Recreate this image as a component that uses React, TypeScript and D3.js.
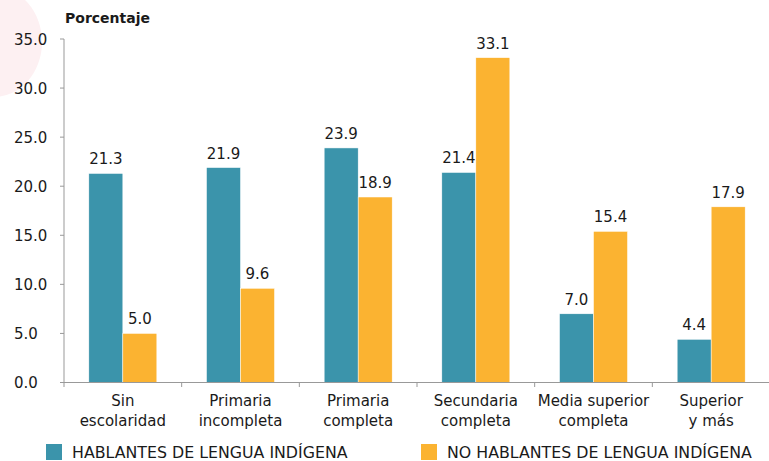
import React from 'react';
import * as d3 from 'd3';

const categories = [
  ['Sin', 'escolaridad'],
  ['Primaria', 'incompleta'],
  ['Primaria', 'completa'],
  ['Secundaria', 'completa'],
  ['Media superior', 'completa'],
  ['Superior', 'y más'],
];
const hablantes = [21.3, 21.9, 23.9, 21.4, 7.0, 4.4];
const noHablantes = [5.0, 9.6, 18.9, 33.1, 15.4, 17.9];
const seriesNames = ['HABLANTES DE LENGUA INDÍGENA', 'NO HABLANTES DE LENGUA INDÍGENA'];
const yTicks = [0, 5, 10, 15, 20, 25, 30, 35];

const width = 769;
const height = 461;
const colors = ['#3b94ab', '#fbb331'];
const font = '"DejaVu Sans", "Noto Sans", sans-serif';

const App: React.FC = () => {
  const x = d3
    .scaleBand<number>()
    .domain(d3.range(categories.length))
    .range([64, 770]);
  const y = d3.scaleLinear().domain([0, 35]).range([382.5, 39]);
  const barW = 34;
  const series = [hablantes, noHablantes];

  return (
    <svg
      width={width}
      height={height}
      style={{ position: 'absolute', left: 0, top: 0, fontFamily: font }}
    >
      <rect width={width} height={height} fill="#fff" />
      <ellipse cx={-6} cy={42} rx={48} ry={55} fill="#fdf0f2" />
      <text x={65} y={23} fontSize={14} fontWeight="bold" fill="#1a1a1a">
        Porcentaje
      </text>

      {yTicks.map((t) => (
        <g key={t}>
          <line x1={60} x2={64} y1={y(t)} y2={y(t)} stroke="#999" />
          <text x={14} y={y(t) + 5.5} fontSize={15} fill="#1a1a1a">
            {t.toFixed(1)}
          </text>
        </g>
      ))}

      {series.map((vals, si) =>
        vals.map((v, i) => {
          const cx = (x(i) as number) + x.bandwidth() / 2;
          const bx = cx - barW + si * barW;
          return (
            <g key={`${si}-${i}`}>
              <rect
                x={bx}
                y={y(v)}
                width={barW}
                height={y(0) - y(v)}
                fill={colors[si]}
                stroke="#fff"
                strokeWidth={0.5}
              />
              <text
                x={bx + barW / 2}
                y={y(v) - 9}
                textAnchor="middle"
                fontSize={15}
                fill="#1a1a1a"
              >
                {v.toFixed(1)}
              </text>
            </g>
          );
        })
      )}

      <line x1={64} x2={64} y1={39} y2={382.5} stroke="#999" />
      <line x1={64} x2={770} y1={382.5} y2={382.5} stroke="#999" />
      {d3.range(categories.length + 1).map((i) => {
        const tx = i < categories.length ? (x(i) as number) : 770;
        return <line key={i} x1={tx} x2={tx} y1={382.5} y2={387} stroke="#999" />;
      })}
      {categories.map((c, i) => {
        const cx = (x(i) as number) + x.bandwidth() / 2;
        return (
          <text key={i} textAnchor="middle" fontSize={15} fill="#1a1a1a">
            <tspan x={cx} y={405.5}>
              {c[0]}
            </tspan>
            <tspan x={cx} y={425.5}>
              {c[1]}
            </tspan>
          </text>
        );
      })}

      {seriesNames.map((n, si) => {
        const lx = si === 0 ? 46 : 421;
        return (
          <g key={n}>
            <rect x={lx} y={444} width={16} height={16} fill={colors[si]} />
            <text x={lx + 26} y={458} fontSize={15.8} fill="#1a1a1a">
              {n}
            </text>
          </g>
        );
      })}
    </svg>
  );
};

export default App;
